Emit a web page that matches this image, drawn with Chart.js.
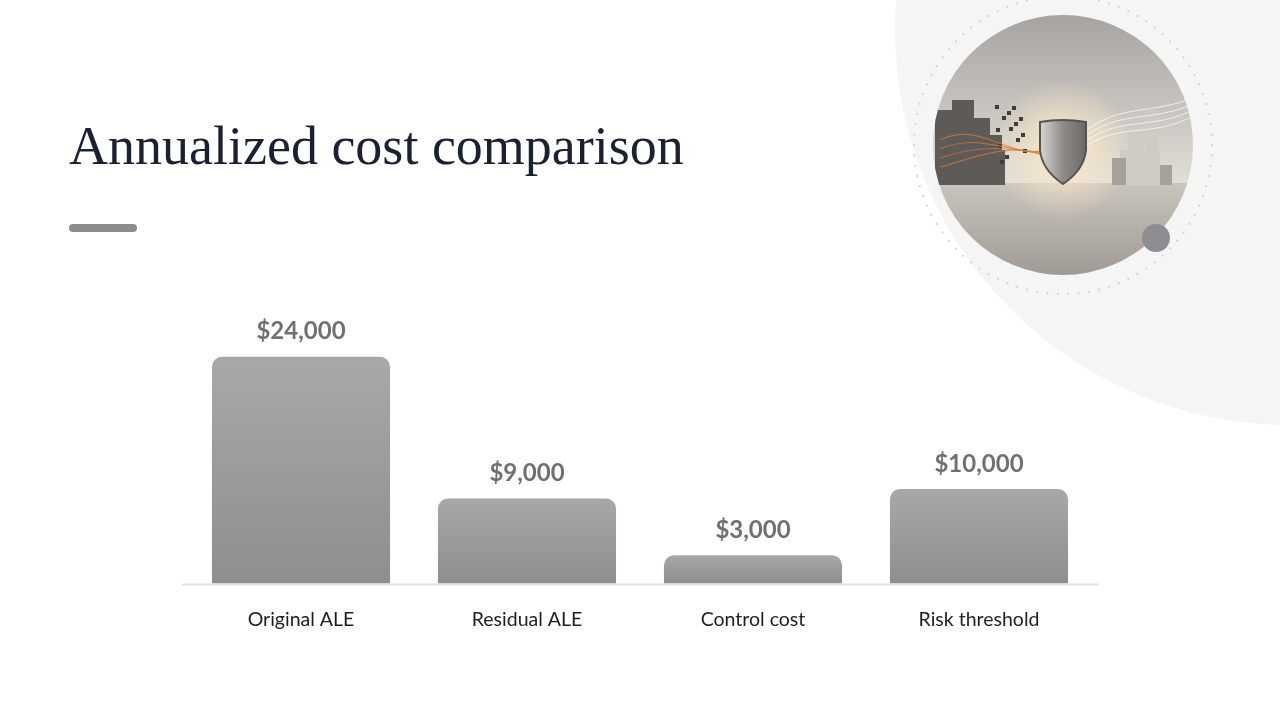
<!DOCTYPE html>
<html>
<head>
<meta charset="utf-8">
<title>Annualized cost comparison</title>
<script src="https://cdn.jsdelivr.net/npm/chart.js@4.4.1/dist/chart.umd.min.js"></script>
<style>
  html, body { margin: 0; padding: 0; background: #ffffff; }
  #slide { position: relative; width: 1280px; height: 720px; overflow: hidden; background: #ffffff; }
  #decor { position: absolute; left: 0; top: 0; }
  #title {
    position: absolute; left: 69px; top: 119px; margin: 0;
    font-family: "Liberation Serif", "DejaVu Serif", serif; font-weight: normal;
    font-size: 54px; color: #1b2130; white-space: nowrap; line-height: 1;
  }
  #rule { position: absolute; left: 69px; top: 224px; width: 68px; height: 8px; border-radius: 4px; background: #8c8c8c; }
  #chartWrap { position: absolute; left: 0; top: 0; width: 1280px; height: 720px; }
</style>
</head>
<body>
<div id="slide">
  <canvas id="decor" width="1280" height="720"></canvas>
  <h1 id="title">Annualized cost comparison</h1>
  <div id="rule"></div>
  <div id="chartWrap"><canvas id="costChart"></canvas></div>
</div>
<script>
// chart data
const categories = ['Original ALE', 'Residual ALE', 'Control cost', 'Risk threshold'];
const costValues = [24000, 9000, 3000, 10000];
const valueLabels = ['$24,000', '$9,000', '$3,000', '$10,000'];

// background decoration (not data)
function drawDecor() {
  const c = document.getElementById('decor');
  const g = c.getContext('2d');
  // big soft circle
  g.fillStyle = '#f5f5f5';
  g.beginPath(); g.arc(1290, 30, 395, 0, Math.PI * 2); g.fill();
  // dotted ring
  const cx = 1063, cy = 145;
  g.fillStyle = '#d0d0d0';
  for (let a = 0; a < 360; a += 4) {
    const r = a * Math.PI / 180;
    g.beginPath(); g.arc(cx + Math.cos(r) * 149, cy + Math.sin(r) * 149, 1.1, 0, Math.PI * 2); g.fill();
  }
  // picture circle
  g.save();
  g.beginPath(); g.arc(cx, cy, 130, 0, Math.PI * 2); g.clip();
  let sky = g.createLinearGradient(0, 15, 0, 185);
  sky.addColorStop(0, '#a7a3a0'); sky.addColorStop(1, '#e2ded8');
  g.fillStyle = sky; g.fillRect(930, 10, 270, 180);
  let ground = g.createLinearGradient(0, 183, 0, 276);
  ground.addColorStop(0, '#c9c4bd'); ground.addColorStop(1, '#9f9a95');
  g.fillStyle = ground; g.fillRect(930, 183, 270, 100);
  // glow behind shield
  let glow = g.createRadialGradient(1062, 150, 5, 1062, 150, 70);
  glow.addColorStop(0, 'rgba(255,236,200,0.9)'); glow.addColorStop(1, 'rgba(255,236,200,0)');
  g.beginPath(); g.arc(1062, 150, 70, 0, Math.PI * 2); g.fillStyle = glow; g.fill();
  // left blocks
  g.fillStyle = '#5d5a58';
  [[935,110,20,75],[952,100,22,85],[972,118,18,67],[988,135,14,50],[945,150,60,35]].forEach(b => g.fillRect(b[0], b[1], b[2], b[3]));
  g.fillStyle = '#3f3c3a';
  for (let i = 0; i < 14; i++) { g.fillRect(995 + (i * 7) % 30, 105 + (i * 11) % 60, 4, 4); }
  g.strokeStyle = 'rgba(214,120,60,0.7)'; g.lineWidth = 1.2;
  for (let i = 0; i < 4; i++) { g.beginPath(); g.moveTo(940, 140 + i * 9); g.bezierCurveTo(980, 120 + i * 12, 1010, 160 - i * 6, 1045, 150 + i * 2); g.stroke(); }
  // right blocks
  g.fillStyle = '#cfcac4';
  [[1128,125,16,60],[1145,110,14,75],[1120,150,40,35]].forEach(b => g.fillRect(b[0], b[1], b[2], b[3]));
  g.fillStyle = '#a6a19c'; g.fillRect(1160, 165, 12, 20); g.fillRect(1112, 158, 14, 27);
  g.strokeStyle = 'rgba(255,255,255,0.7)'; g.lineWidth = 1;
  for (let i = 0; i < 4; i++) { g.beginPath(); g.moveTo(1080, 150 - i * 5); g.bezierCurveTo(1120, 120 - i * 6, 1150, 140 - i * 8, 1195, 115 - i * 6); g.stroke(); }
  // shield
  let sh = g.createLinearGradient(1040, 0, 1085, 0);
  sh.addColorStop(0, '#d8d6d4'); sh.addColorStop(0.5, '#8f8c8a'); sh.addColorStop(1, '#6d6a68');
  g.fillStyle = sh; g.strokeStyle = '#55524f'; g.lineWidth = 2;
  g.beginPath();
  g.moveTo(1040, 122); g.quadraticCurveTo(1062, 118, 1086, 122);
  g.lineTo(1086, 150); g.quadraticCurveTo(1084, 170, 1063, 184);
  g.quadraticCurveTo(1042, 170, 1040, 150); g.closePath();
  g.fill(); g.stroke();
  g.restore();
  // small dot
  g.fillStyle = '#8e8e92';
  g.beginPath(); g.arc(1156, 238, 14, 0, Math.PI * 2); g.fill();
}
drawDecor();

const barGradient = function(context) {
  const chart = context.chart;
  const area = chart.chartArea;
  if (!area || context.raw === undefined) return '#9b9a9b';
  const y = chart.scales.y.getPixelForValue(context.raw);
  const grad = chart.ctx.createLinearGradient(0, y, 0, area.bottom);
  grad.addColorStop(0, '#a9a7a8');
  grad.addColorStop(1, '#8f8e8f');
  return grad;
};

// value labels over the bars + extended base line
const barLabels = {
  id: 'barLabels',
  beforeDatasetsDraw(chart) {
    const ctx = chart.ctx;
    const area = chart.chartArea;
    ctx.save();
    ctx.strokeStyle = '#e3e3e3';
    ctx.lineWidth = 2;
    ctx.beginPath();
    ctx.moveTo(area.left - 6, area.bottom + 1);
    ctx.lineTo(area.right + 7, area.bottom + 1);
    ctx.stroke();
    ctx.restore();
  },
  afterDatasetsDraw(chart) {
    const ctx = chart.ctx;
    const meta = chart.getDatasetMeta(0);
    ctx.save();
    ctx.font = 'bold 24px Lato, "Noto Sans", sans-serif';
    ctx.fillStyle = '#707070';
    ctx.textAlign = 'center';
    ctx.textBaseline = 'middle';
    meta.data.forEach((bar, i) => {
      ctx.fillText(valueLabels[i], bar.x, bar.y - 25);
    });
    ctx.restore();
  }
};

new Chart(document.getElementById('costChart'), {
  type: 'bar',
  data: {
    labels: categories,
    datasets: [{
      label: 'Annualized cost',
      data: costValues,
      backgroundColor: barGradient,
      borderRadius: { topLeft: 10, topRight: 10, bottomLeft: 0, bottomRight: 0 },
      borderSkipped: false,
      categoryPercentage: 1.0,
      barPercentage: 0.788
    }]
  },
  options: {
    responsive: true,
    maintainAspectRatio: false,
    animation: false,
    layout: { padding: { left: 188, right: 188, top: 300, bottom: 65 } },
    plugins: { legend: { display: false }, tooltip: { enabled: false } },
    scales: {
      x: {
        grid: { display: false, drawTicks: false },
        border: { display: false },
        ticks: {
          color: '#1e1e1e',
          padding: 24,
          font: { family: 'Lato, "Noto Sans", sans-serif', size: 19.5 }
        }
      },
      y: {
        display: false,
        min: 0,
        max: 30000
      }
    }
  },
  plugins: [barLabels]
});
</script>
</body>
</html>
